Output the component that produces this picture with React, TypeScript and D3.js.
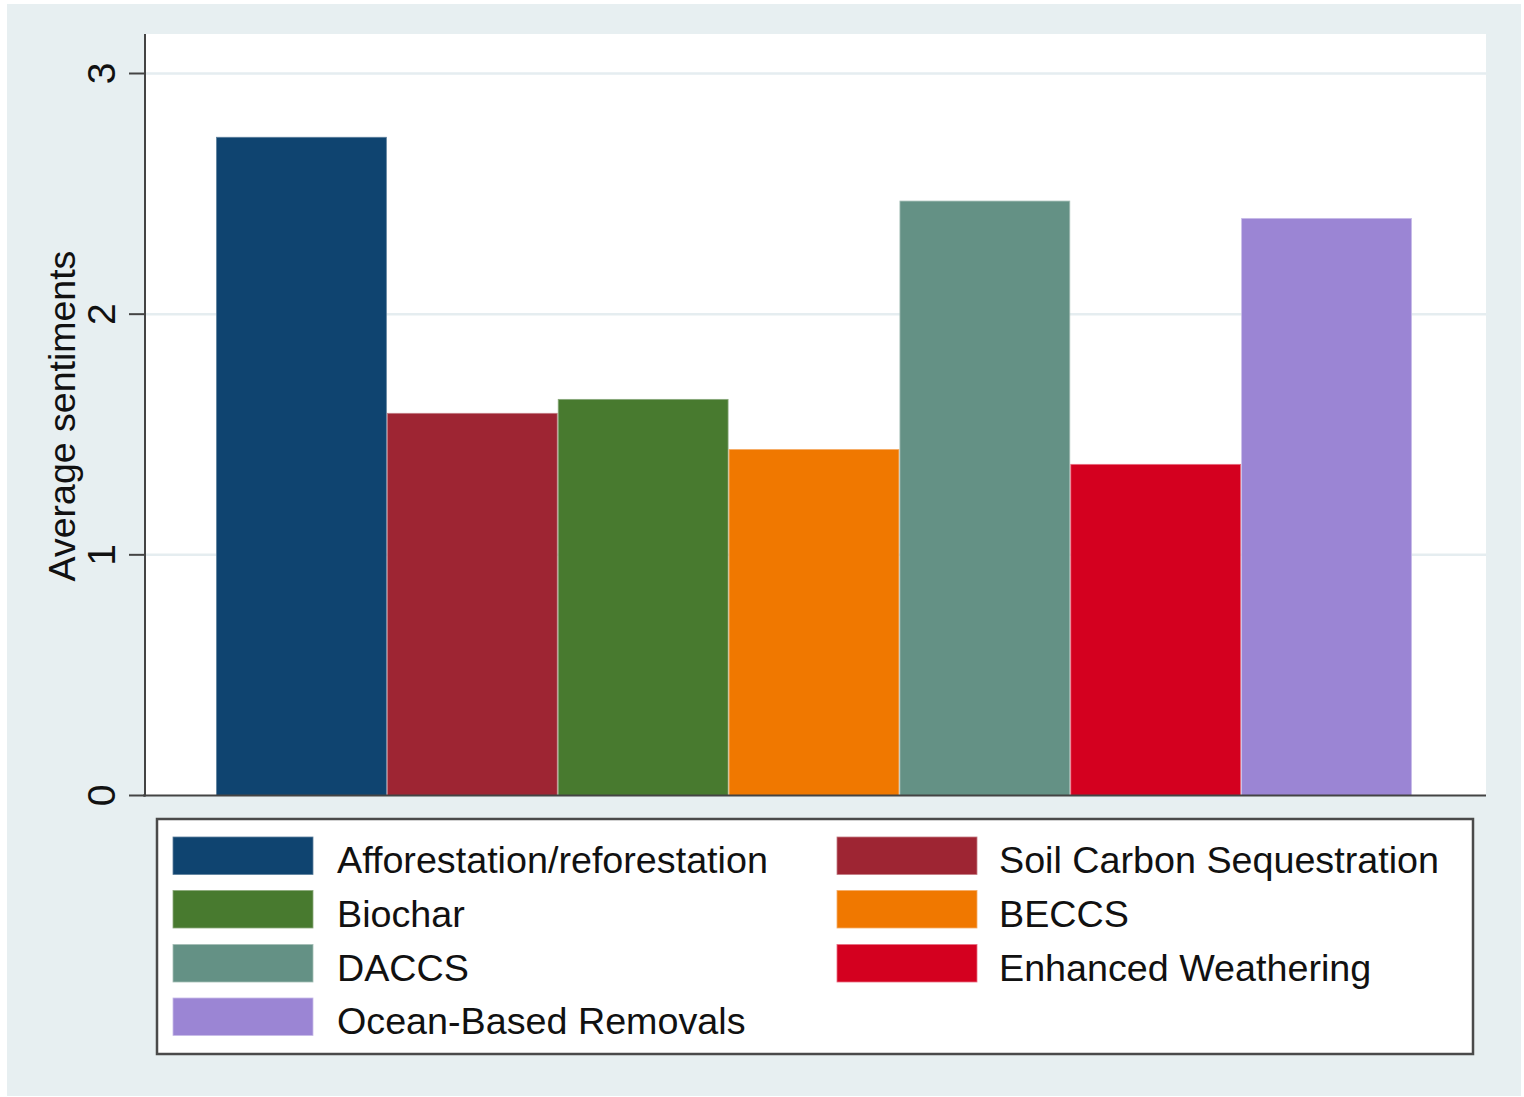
import React from "react";
import * as d3 from "d3";

const categories = [
  "Afforestation/reforestation",
  "Soil Carbon Sequestration",
  "Biochar",
  "BECCS",
  "DACCS",
  "Enhanced Weathering",
  "Ocean-Based Removals",
];
const values = [2.735, 1.588, 1.646, 1.438, 2.47, 1.376, 2.398];
const colors = ["#0f4470", "#9e2533", "#487a2f", "#f07800", "#649185", "#d4001f", "#9b85d4"];
const edgeColors = ["#5d7f9c", "#c27c83", "#8aa97b", "#f5ac66", "#a3bdb5", "#e86c80", "#c7bbe8"];
const yTicks = [0, 1, 2, 3];
const yTitle = "Average sentiments";

const W = 1524;
const H = 1097;
const FONT = "'Liberation Sans', Arial, Helvetica, sans-serif";

export default function App() {
  const plotL = 145, plotR = 1486, plotT = 34;
  const x = d3.scaleBand<string>().domain(categories).range([216, 1412]).padding(0);
  const y = d3.scaleLinear().domain([0, 3]).range([795.5, 73.5]);

  const legX = 157, legY = 819, legW = 1316, legH = 235;
  const colX = [173, 837];
  const textX = [337, 999];
  const rowY = [837, 890.5, 944.5, 998];
  const swW = 140, swH = 37.5;

  return (
    <svg width={W} height={H} style={{ position: "absolute", left: 0, top: 0 }} fontFamily={FONT}>
      <rect x={0} y={0} width={W} height={H} fill="#ffffff" />
      <rect x={7} y={4} width={1514} height={1092} fill="#e7eff1" />
      <rect x={plotL} y={plotT} width={plotR - plotL} height={y(0) - plotT} fill="#ffffff" />
      {yTicks.filter((t) => t > 0).map((t) => (
        <line key={"g" + t} x1={plotL} x2={plotR} y1={y(t)} y2={y(t)} stroke="#e5edf0" strokeWidth={2.5} />
      ))}
      {categories.map((c, i) => (
        <rect
          key={c}
          x={x(c)! + 0.5}
          y={y(values[i])}
          width={x.bandwidth() - 1}
          height={y(0) - y(values[i])}
          fill={colors[i]}
          stroke={edgeColors[i]}
          strokeWidth={0.8}
        />
      ))}
      <line x1={plotL} x2={plotL} y1={plotT} y2={y(0) + 1} stroke="#444" strokeWidth={2} />
      <line x1={plotL - 2} x2={plotR} y1={y(0)} y2={y(0)} stroke="#444" strokeWidth={2.2} />
      {yTicks.map((t) => (
        <g key={"t" + t}>
          <line x1={129} x2={plotL} y1={y(t)} y2={y(t)} stroke="#444" strokeWidth={2} />
          <text
            transform={`translate(114.5,${y(t)}) rotate(-90)`}
            textAnchor="middle"
            fontSize={39}
            fill="#111"
          >
            {t}
          </text>
        </g>
      ))}
      <text
        transform={`translate(74.5,${(250 + 582) / 2}) rotate(-90)`}
        textAnchor="middle"
        fontSize={37.5}
        fill="#111"
      >
        {yTitle}
      </text>
      <rect x={legX} y={legY} width={legW} height={legH} fill="#ffffff" stroke="#4a4a4a" strokeWidth={2.5} />
      {categories.map((c, i) => {
        const col = i % 2;
        const row = Math.floor(i / 2);
        return (
          <g key={"l" + c}>
            <rect x={colX[col]} y={rowY[row]} width={swW} height={swH} fill={colors[i]} stroke={edgeColors[i]} strokeWidth={0.8} />
            <text x={textX[col]} y={rowY[row] + swH - 1.5} fontSize={37.7} fill="#111">
              {c}
            </text>
          </g>
        );
      })}
    </svg>
  );
}
